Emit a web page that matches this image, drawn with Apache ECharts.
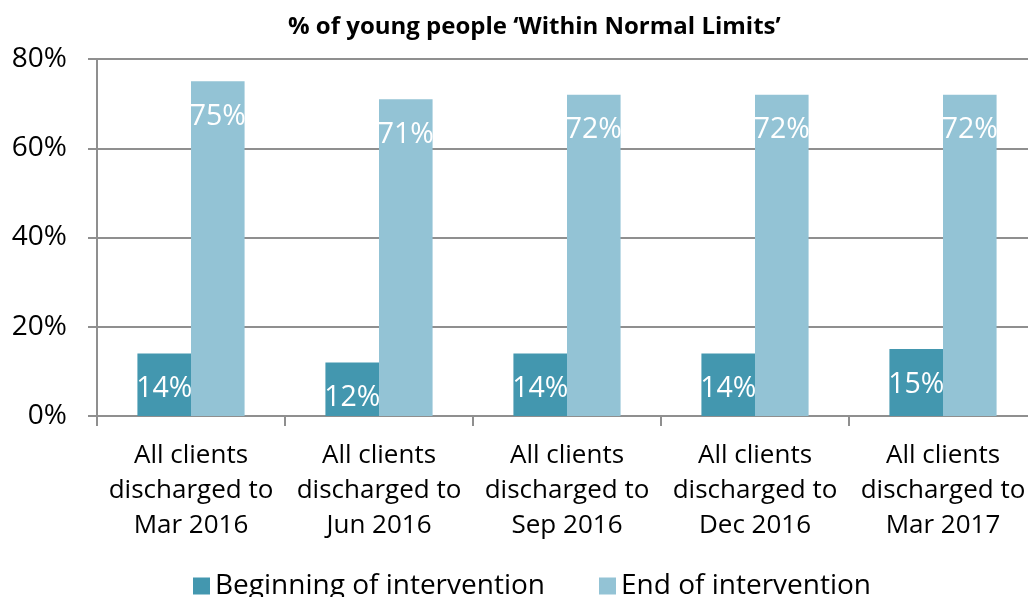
<!DOCTYPE html>
<html>
<head>
<meta charset="utf-8">
<script src="https://cdn.jsdelivr.net/npm/echarts@6/dist/echarts.min.js"></script>
<style>
  html, body { margin: 0; padding: 0; background: #fff; }
  #chart { width: 1028px; height: 597px; }
</style>
</head>
<body>
<div id="chart"></div>
<script>
// 数据
const categories = [
  "All clients\ndischarged to\nMar 2016",
  "All clients\ndischarged to\nJun 2016",
  "All clients\ndischarged to\nSep 2016",
  "All clients\ndischarged to\nDec 2016",
  "All clients\ndischarged to\nMar 2017"
];
const beginningValues = [14, 12, 14, 14, 15];
const endValues = [75, 71, 72, 72, 72];
const yTicks = { min: 0, max: 80, interval: 20 };

const chart = echarts.init(document.getElementById("chart"));
const font = "'Open Sans', sans-serif";
const lineColor = "#8f8f8f";

const barLabel = {
  show: true,
  position: "insideTop",
  distance: 21,
  color: "#fff",
  fontSize: 28.5,
  fontFamily: font,
  formatter: "{c}%"
};

const option = {
  animation: false,
  title: {
    text: "% of young people \u2018Within Normal Limits\u2019",
    left: 283,
    top: 10,
    textStyle: {
      fontFamily: font,
      fontWeight: "bold",
      fontSize: 24,
      color: "#000"
    }
  },
  legend: {
    left: 188,
    top: 567,
    itemWidth: 17,
    itemHeight: 17,
    itemGap: 54,
    icon: "rect",
    textStyle: { fontFamily: font, fontSize: 28, color: "#000", padding: [0, 0, 0, 0] },
    data: ["Beginning of intervention", "End of intervention"]
  },
  grid: {
    left: 97,
    top: 59,
    width: 940,
    height: 357,
    outerBoundsMode: "none",
    containLabel: false
  },
  xAxis: {
    type: "category",
    data: categories,
    axisLine: { show: true, lineStyle: { color: lineColor, width: 2 } },
    axisTick: { show: true, length: 10, alignWithLabel: false, lineStyle: { color: lineColor, width: 2 } },
    axisLabel: {
      interval: 0,
      margin: 22,
      color: "#000",
      fontFamily: font,
      fontSize: 26,
      lineHeight: 35
    }
  },
  yAxis: {
    type: "value",
    min: yTicks.min,
    max: yTicks.max,
    interval: yTicks.interval,
    axisLine: { show: true, lineStyle: { color: lineColor, width: 2 } },
    axisTick: { show: true, length: 9, lineStyle: { color: lineColor, width: 2 } },
    splitLine: { show: true, lineStyle: { color: lineColor, width: 2 } },
    axisLabel: {
      margin: 30,
      color: "#000",
      fontFamily: font,
      fontSize: 28,
      formatter: "{value}%"
    }
  },
  series: [
    {
      name: "Beginning of intervention",
      type: "bar",
      data: beginningValues,
      barGap: "0%",
      barCategoryGap: "43%",
      itemStyle: { color: "#4397AF" },
      label: barLabel
    },
    {
      name: "End of intervention",
      type: "bar",
      data: endValues,
      barGap: "0%",
      barCategoryGap: "43%",
      itemStyle: { color: "#93C3D5" },
      label: barLabel
    }
  ]
};

chart.setOption(option);
</script>
</body>
</html>
